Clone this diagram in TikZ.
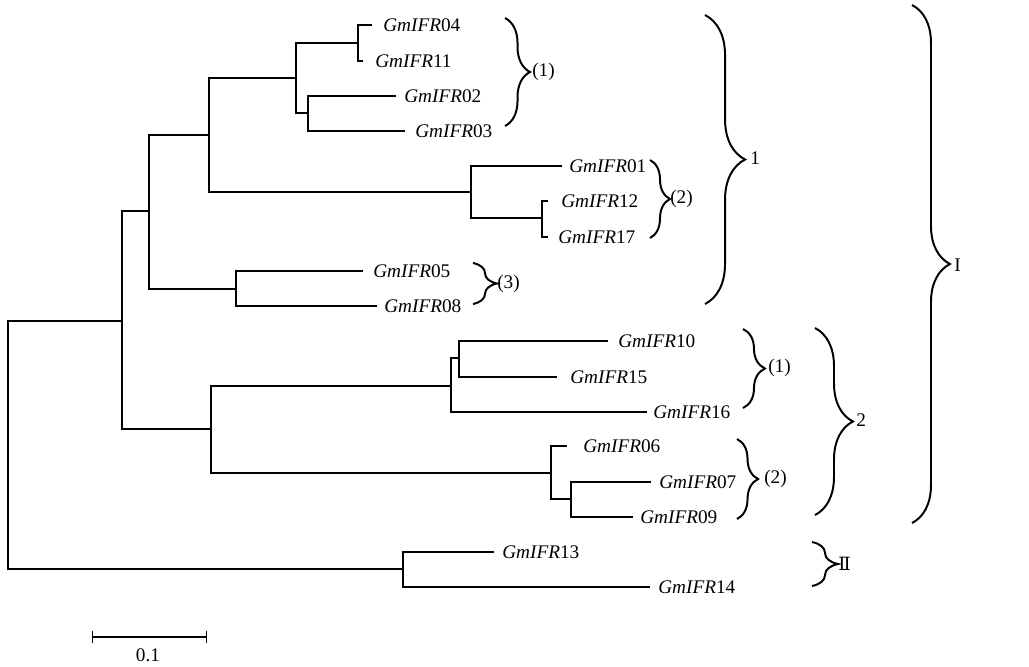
\documentclass[tikz,border=0pt]{standalone}
\usepackage{fontspec}
\setmainfont{Liberation Serif}
\newfontfamily\numeralfont{DejaVu Serif}
\usetikzlibrary{decorations.pathreplacing,arrows.meta}

\tikzset{
  branch/.style={line width=0.9pt},
  leaf/.style={anchor=west, inner sep=0pt, font=\fontsize{13.7}{16}\selectfont},
  tag/.style={anchor=west, inner sep=0pt, font=\fontsize{13.7}{16}\selectfont},
  clade/.style={line width=1.4pt, decorate, decoration={brace, amplitude=#1}},
}

\begin{document}
\begin{tikzpicture}[x=0.025cm, y=-0.025cm]
    \useasboundingbox (0,0) rectangle (1029,666);

    % Inner nodes of the tree
    \foreach \n/\x/\y in {R/8/445, A/122/321, B/149/211, C/211/429, D/209/135,
        E/236/289, F/296/78, G/471/192, H/358/43, I/308/113, J/542/218,
        K/451/386, L/551/473, M/571/499, N/459/358, O/403/569}
        \coordinate (\n) at (\x,\y);

    % Leaves and their names
    \foreach \n/\x/\y/\s in {04/372/25/383, 11/363/61/375, 02/396/96/404,
        03/405/131/415, 01/562/166/569, 12/548/201/561, 17/548/237/558,
        05/363/271/373, 08/377/306/384, 10/608/341/618, 15/557/377/570,
        16/647/412/653, 06/567/446/583, 07/651/482/659, 09/633/517/640,
        13/494/552/502, 14/650/587/658}
    {
        \coordinate (t\n) at (\x,\y);
        \node[leaf] (g\n) at (\s,\y) {\textit{GmIFR}\n};
    }

    % Branches
    \foreach \p/\c in {R/A, R/O, A/B, A/C, B/D, B/E, D/F, D/G, F/H, F/I,
        H/t04, H/t11, I/t02, I/t03, G/t01, G/J, J/t12, J/t17, E/t05, E/t08,
        C/K, C/L, K/N, K/t16, N/t10, N/t15, L/t06, L/M, M/t07, M/t09,
        O/t13, O/t14}
        \draw[branch] (\p) |- (\c);

    % Subgroups
    \draw[clade=17.8pt] (505,18) -- (505,126);
    \node[tag] (s1) at (532,72) {(1)};
    \draw[clade=14.2pt] (650,160) -- (650,238);
    \node[tag] (s2) at (670,199) {(2)};
    \draw[clade=17.1pt] (473,263) -- (473,304);
    \node[tag] (s3) at (497,284) {(3)};
    \draw[clade=15.6pt] (743,329) -- (743,408);
    \node[tag] (s4) at (768,368) {(1)};
    \draw[clade=15pt] (737,439) -- (737,519);
    \node[tag] (s5) at (764,479) {(2)};

    % Groups and classes
    \draw[clade=28.5pt] (705,15) -- (705,304);
    \node[tag] (c1) at (750,158) {1};
    \draw[clade=27pt] (815,328) -- (815,515);
    \node[tag] (c2) at (856,420) {2};
    \draw[clade=27pt] (912,5) -- (912,523);
    \node[tag] (k1) at (954,265) {I};
    \draw[clade=18.5pt] (812,542) -- (812,586);
    \node[tag, font=\numeralfont\fontsize{13}{16}\selectfont] (k2) at (838,564) {Ⅱ};

    % Scale bar
    \coordinate (sa) at (92,637);
    \coordinate (sb) at (207,637);
    \draw[branch, {Bar[width=9pt]}-{Bar[width=9pt]}] (sa) -- (sb);
    \node[font=\fontsize{13.7}{16}\selectfont] (sl) at (148,655) {0.1};
\end{tikzpicture}
\end{document}
